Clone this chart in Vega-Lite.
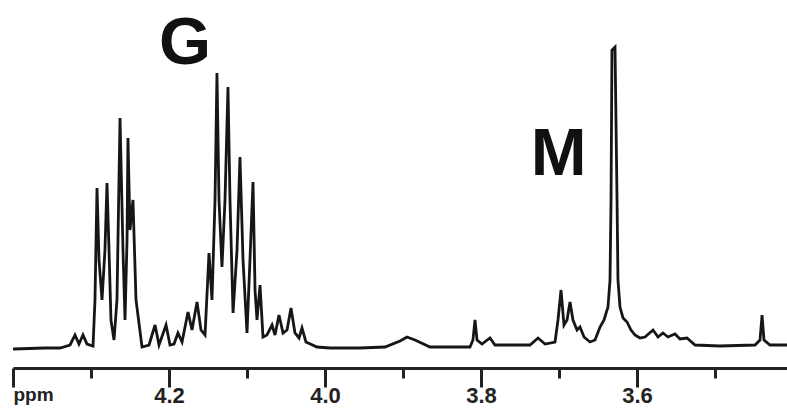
{
  "$schema": "https://vega.github.io/schema/vega-lite/v6.json",
  "width": 774,
  "height": 368,
  "autosize": {"type": "none"},
  "padding": {"left": 13, "top": 0, "right": 0, "bottom": 43},
  "background": "white",
  "config": {"view": {"stroke": null}},
  "layer": [
    {
      "data": {
        "values": [
          {"ppm": 4.4000, "intensity": 19},
          {"ppm": 4.3590, "intensity": 20},
          {"ppm": 4.3397, "intensity": 20},
          {"ppm": 4.3269, "intensity": 23},
          {"ppm": 4.3205, "intensity": 33},
          {"ppm": 4.3154, "intensity": 24},
          {"ppm": 4.3103, "intensity": 33},
          {"ppm": 4.3051, "intensity": 24},
          {"ppm": 4.2974, "intensity": 22},
          {"ppm": 4.2949, "intensity": 68},
          {"ppm": 4.2923, "intensity": 180},
          {"ppm": 4.2897, "intensity": 108},
          {"ppm": 4.2859, "intensity": 68},
          {"ppm": 4.2821, "intensity": 118},
          {"ppm": 4.2795, "intensity": 185},
          {"ppm": 4.2769, "intensity": 118},
          {"ppm": 4.2744, "intensity": 48},
          {"ppm": 4.2705, "intensity": 28},
          {"ppm": 4.2667, "intensity": 68},
          {"ppm": 4.2628, "intensity": 250},
          {"ppm": 4.2590, "intensity": 118},
          {"ppm": 4.2564, "intensity": 48},
          {"ppm": 4.2538, "intensity": 128},
          {"ppm": 4.2526, "intensity": 230},
          {"ppm": 4.2500, "intensity": 138},
          {"ppm": 4.2462, "intensity": 168},
          {"ppm": 4.2423, "intensity": 68},
          {"ppm": 4.2346, "intensity": 21},
          {"ppm": 4.2256, "intensity": 23},
          {"ppm": 4.2179, "intensity": 43},
          {"ppm": 4.2128, "intensity": 23},
          {"ppm": 4.2038, "intensity": 43},
          {"ppm": 4.1987, "intensity": 23},
          {"ppm": 4.1936, "intensity": 24},
          {"ppm": 4.1885, "intensity": 35},
          {"ppm": 4.1833, "intensity": 26},
          {"ppm": 4.1756, "intensity": 56},
          {"ppm": 4.1705, "intensity": 38},
          {"ppm": 4.1641, "intensity": 66},
          {"ppm": 4.1590, "intensity": 38},
          {"ppm": 4.1538, "intensity": 33},
          {"ppm": 4.1487, "intensity": 115},
          {"ppm": 4.1449, "intensity": 68},
          {"ppm": 4.1410, "intensity": 168},
          {"ppm": 4.1385, "intensity": 295},
          {"ppm": 4.1359, "intensity": 168},
          {"ppm": 4.1321, "intensity": 101},
          {"ppm": 4.1282, "intensity": 168},
          {"ppm": 4.1244, "intensity": 281},
          {"ppm": 4.1218, "intensity": 168},
          {"ppm": 4.1179, "intensity": 55},
          {"ppm": 4.1128, "intensity": 118},
          {"ppm": 4.1090, "intensity": 211},
          {"ppm": 4.1051, "intensity": 108},
          {"ppm": 4.1000, "intensity": 35},
          {"ppm": 4.0962, "intensity": 108},
          {"ppm": 4.0923, "intensity": 186},
          {"ppm": 4.0897, "intensity": 78},
          {"ppm": 4.0872, "intensity": 48},
          {"ppm": 4.0833, "intensity": 83},
          {"ppm": 4.0795, "intensity": 31},
          {"ppm": 4.0744, "intensity": 33},
          {"ppm": 4.0679, "intensity": 43},
          {"ppm": 4.0641, "intensity": 33},
          {"ppm": 4.0590, "intensity": 53},
          {"ppm": 4.0538, "intensity": 35},
          {"ppm": 4.0487, "intensity": 38},
          {"ppm": 4.0436, "intensity": 60},
          {"ppm": 4.0385, "intensity": 35},
          {"ppm": 4.0333, "intensity": 30},
          {"ppm": 4.0295, "intensity": 40},
          {"ppm": 4.0244, "intensity": 26},
          {"ppm": 4.0103, "intensity": 21},
          {"ppm": 3.9936, "intensity": 20},
          {"ppm": 3.9551, "intensity": 20},
          {"ppm": 3.9231, "intensity": 21},
          {"ppm": 3.9038, "intensity": 27},
          {"ppm": 3.8949, "intensity": 31},
          {"ppm": 3.8846, "intensity": 28},
          {"ppm": 3.8654, "intensity": 21},
          {"ppm": 3.8141, "intensity": 21},
          {"ppm": 3.8103, "intensity": 28},
          {"ppm": 3.8077, "intensity": 48},
          {"ppm": 3.8051, "intensity": 28},
          {"ppm": 3.7987, "intensity": 24},
          {"ppm": 3.7885, "intensity": 30},
          {"ppm": 3.7821, "intensity": 23},
          {"ppm": 3.7372, "intensity": 23},
          {"ppm": 3.7269, "intensity": 30},
          {"ppm": 3.7179, "intensity": 24},
          {"ppm": 3.7051, "intensity": 26},
          {"ppm": 3.7013, "intensity": 48},
          {"ppm": 3.6974, "intensity": 78},
          {"ppm": 3.6936, "intensity": 43},
          {"ppm": 3.6897, "intensity": 48},
          {"ppm": 3.6859, "intensity": 66},
          {"ppm": 3.6821, "intensity": 48},
          {"ppm": 3.6769, "intensity": 38},
          {"ppm": 3.6731, "intensity": 41},
          {"ppm": 3.6679, "intensity": 31},
          {"ppm": 3.6603, "intensity": 26},
          {"ppm": 3.6538, "intensity": 28},
          {"ppm": 3.6474, "intensity": 41},
          {"ppm": 3.6423, "intensity": 48},
          {"ppm": 3.6372, "intensity": 61},
          {"ppm": 3.6346, "intensity": 88},
          {"ppm": 3.6333, "intensity": 168},
          {"ppm": 3.6321, "intensity": 318},
          {"ppm": 3.6282, "intensity": 321},
          {"ppm": 3.6256, "intensity": 168},
          {"ppm": 3.6244, "intensity": 88},
          {"ppm": 3.6218, "intensity": 61},
          {"ppm": 3.6179, "intensity": 50},
          {"ppm": 3.6128, "intensity": 46},
          {"ppm": 3.6077, "intensity": 38},
          {"ppm": 3.6026, "intensity": 33},
          {"ppm": 3.5962, "intensity": 30},
          {"ppm": 3.5897, "intensity": 31},
          {"ppm": 3.5795, "intensity": 38},
          {"ppm": 3.5731, "intensity": 31},
          {"ppm": 3.5667, "intensity": 35},
          {"ppm": 3.5603, "intensity": 31},
          {"ppm": 3.5513, "intensity": 34},
          {"ppm": 3.5449, "intensity": 29},
          {"ppm": 3.5359, "intensity": 30},
          {"ppm": 3.5256, "intensity": 23},
          {"ppm": 3.4936, "intensity": 22},
          {"ppm": 3.4487, "intensity": 23},
          {"ppm": 3.4423, "intensity": 28},
          {"ppm": 3.4397, "intensity": 53},
          {"ppm": 3.4372, "intensity": 28},
          {"ppm": 3.4295, "intensity": 23},
          {"ppm": 3.4077, "intensity": 23}
        ]
      },
      "mark": {"type": "line", "color": "#161616", "strokeWidth": 2.8, "clip": true},
      "encoding": {
        "x": {
          "field": "ppm",
          "type": "quantitative",
          "scale": {"domain": [3.4077, 4.4], "reverse": true, "nice": false, "zero": false},
          "axis": {
            "title": null,
            "grid": false,
            "values": [4.4, 4.3, 4.2, 4.1, 4.0, 3.9, 3.8, 3.7, 3.6, 3.5],
            "labelExpr": "datum.value > 4.35 ? 'ppm' : (abs(round(datum.value * 10)) % 2 == 0 ? format(datum.value, '.1f') : '')",
            "domainColor": "#222222",
            "domainWidth": 3,
            "tickColor": "#222222",
            "tickWidth": 3,
            "tickSize": {"condition": {"test": "abs(round(datum.value * 10)) % 2 == 0", "value": 19}, "value": 10},
            "labelFont": "Liberation Sans",
            "labelFontWeight": "bold",
            "labelFontSize": {"condition": {"test": "datum.value > 4.35", "value": 19}, "value": 22},
            "labelAlign": {"condition": {"test": "datum.value > 4.35", "value": "left"}, "value": "center"},
            "labelColor": "#222222",
            "labelPadding": -2,
            "labelFlush": false,
            "labelOverlap": false,
            "labelBound": false
          }
        },
        "y": {
          "field": "intensity",
          "type": "quantitative",
          "scale": {"domain": [0, 368], "nice": false, "zero": true},
          "axis": null
        }
      }
    },
    {
      "data": {
        "values": [
          {"ppm": 4.1795, "intensity": 304, "label": "G"},
          {"ppm": 3.7006, "intensity": 193, "label": "M"}
        ]
      },
      "mark": {"type": "text", "font": "Liberation Sans", "fontWeight": "bold", "fontSize": 67, "align": "center", "baseline": "alphabetic", "color": "#111111"},
      "encoding": {
        "x": {"field": "ppm", "type": "quantitative"},
        "y": {"field": "intensity", "type": "quantitative"},
        "text": {"field": "label"}
      }
    }
  ]
}
